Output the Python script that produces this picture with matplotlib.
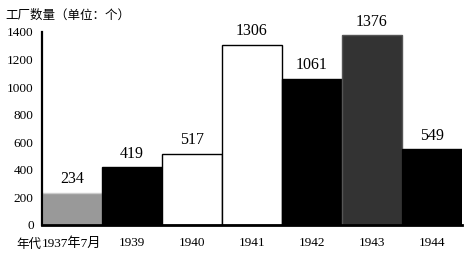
import matplotlib
matplotlib.use("Agg")
import matplotlib.pyplot as plt

years = ["1937年7月", "1939", "1940", "1941", "1942", "1943", "1944"]
counts = [234, 419, 517, 1306, 1061, 1376, 549]
face = ["#999999", "black", "white", "white", "black", "#333333", "black"]
edge = ["#cccccc", "black", "black", "black", "black", "#555555", "black"]

serif = ["Liberation Serif", "Noto Sans CJK SC"]
cjk = ["Noto Sans CJK SC", "DejaVu Sans"]

fig = plt.figure(figsize=(4.67, 2.58), dpi=100)
ax = fig.add_axes([0.09, 0.128, 0.899, 0.748])

x = range(len(years))
ax.bar(x, counts, width=1.0, color=face, edgecolor=edge, linewidth=1.0)
for i, v in enumerate(counts):
    ax.text(i, v + 40, str(v), ha="center", va="bottom", fontsize=11.5, family=serif)

ax.set_xlim(-0.5, len(years) - 0.5)
ax.set_ylim(0, 1400)
ax.set_yticks(range(0, 1401, 200))
ax.set_yticklabels([str(t) for t in range(0, 1401, 200)], family=serif, fontsize=9.5)
ax.set_xticks(list(x))
ax.set_xticklabels(years, family=serif, fontsize=9.5)
ax.tick_params(length=0, pad=6)
ax.tick_params(axis="x", pad=9)

for s in ["top", "right"]:
    ax.spines[s].set_visible(False)
ax.spines["left"].set_linewidth(1.6)
ax.spines["bottom"].set_linewidth(2.0)

fig.text(5 / 467, 1 - 15 / 258, "工厂数量（单位：个）", family=cjk, fontsize=9, va="center")
fig.text(16 / 467, 1 - 244 / 258, "年代", family=cjk, fontsize=9, va="center")

fig.savefig("out.png", dpi=100)
